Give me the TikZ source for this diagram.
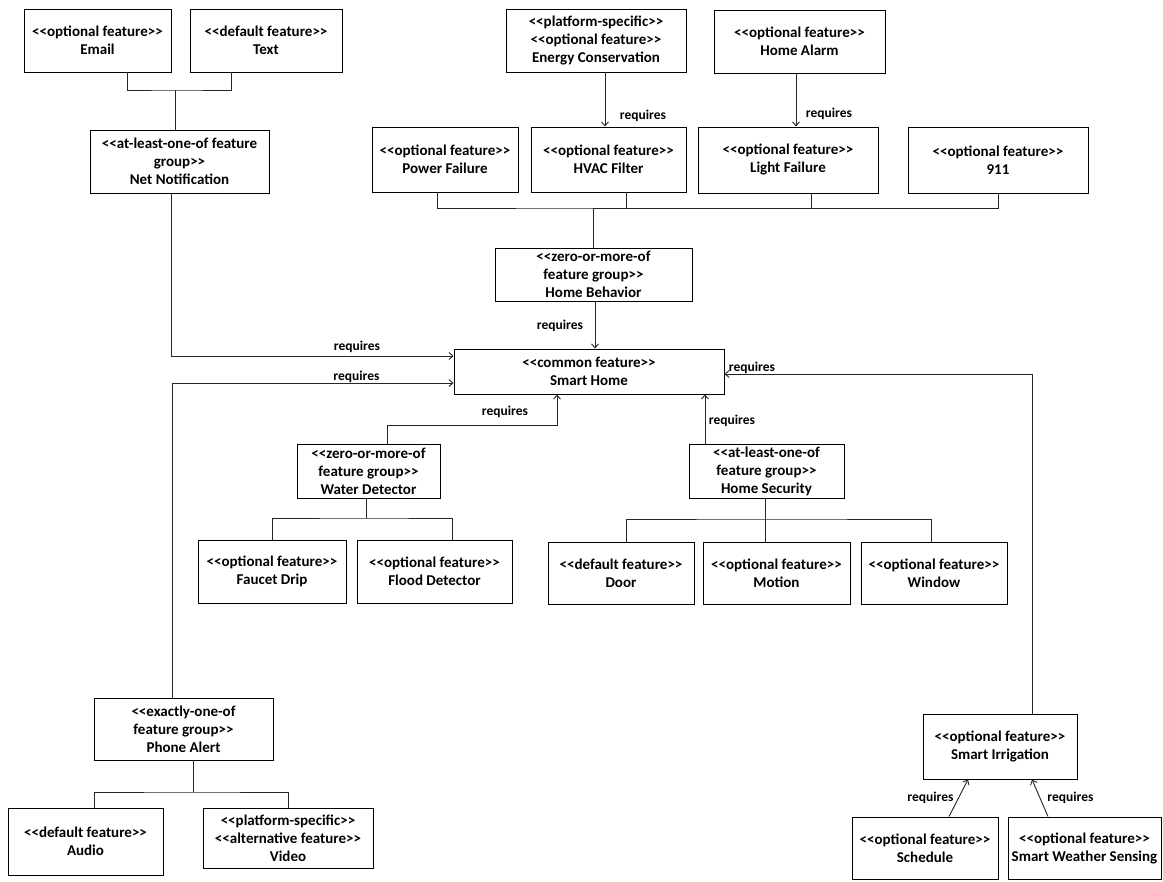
\documentclass[tikz,border=0pt]{standalone}
\usepackage{fontspec}
\setmainfont{Carlito}[Ligatures=TeXOff]
\usetikzlibrary{arrows.meta}
\tikzset{
  feat/.style 2 args={draw, line width=0.95pt, rectangle, inner sep=0pt,
    minimum width=#1, minimum height=#2, align=center,
    font=\fontsize{15}{18}\selectfont\bfseries},
  link/.style={line width=0.9pt, draw=black!85},
  req/.style={line width=0.9pt, draw=black!85, -{Straight Barb[length=4pt,width=7pt]}},
  reqlabel/.style={inner sep=0pt, font=\fontsize{13.5}{16}\selectfont\bfseries},
}
\begin{document}
\begin{tikzpicture}[x=1pt, y=-1pt]
\useasboundingbox (0,0) rectangle (1163,882);

% ---- feature boxes ----
\node[feat={147pt}{63pt}] (email)    at (97.5,40.5)  {<<optional feature>>\\Email};
\node[feat={152pt}{63pt}] (text)     at (266,40.5)   {<<default feature>>\\Text};
\node[feat={179pt}{63pt}] (netnot)   at (179.5,161.5){<<at-least-one-of feature\\group>>\\Net Notification};
\node[feat={180pt}{63pt}] (energy)   at (596,40.5)   {<<platform-specific>>\\<<optional feature>>\\Energy Conservation};
\node[feat={171pt}{63pt}] (alarm)    at (799.5,41.5) {<<optional feature>>\\Home Alarm};
\node[feat={146pt}{65pt}] (power)    at (445,159.5)  {<<optional feature>>\\Power Failure};
\node[feat={155pt}{65pt}] (hvac)     at (608.5,159.5){<<optional feature>>\\HVAC Filter};
\node[feat={180pt}{66pt}] (light)    at (788,160)    {<<optional feature>>\\Light Failure};
\node[feat={180pt}{66pt}] (n911)     at (998,160)    {<<optional feature>>\\911};
\node[feat={197pt}{53pt}] (behavior) at (593.5,274.5){<<zero-or-more-of\\feature group>>\\Home Behavior};
\node[feat={270pt}{45pt}] (home)     at (589,371.5)  {<<common feature>>\\Smart Home};
\node[feat={143pt}{54pt}] (water)    at (368.5,471)  {<<zero-or-more-of\\feature group>>\\Water Detector};
\node[feat={148pt}{63pt}] (faucet)   at (272,571.5)  {<<optional feature>>\\Faucet Drip};
\node[feat={155pt}{63pt}] (flood)    at (434.5,571.5){<<optional feature>>\\Flood Detector};
\node[feat={155pt}{54pt}] (security) at (766.5,471)  {<<at-least-one-of\\feature group>>\\Home Security};
\node[feat={146pt}{62pt}] (door)     at (621,573)    {<<default feature>>\\Door};
\node[feat={147pt}{62pt}] (motion)   at (776.5,573)  {<<optional feature>>\\Motion};
\node[feat={146pt}{62pt}] (window)   at (934,573)    {<<optional feature>>\\Window};
\node[feat={179pt}{62pt}] (phone)    at (183.5,729)  {<<exactly-one-of\\feature group>>\\Phone Alert};
\node[feat={155pt}{67pt}] (audio)    at (85.5,841.5) {<<default feature>>\\Audio};
\node[feat={170pt}{60pt}] (video)    at (288,838)    {<<platform-specific>>\\<<alternative feature>>\\Video};
\node[feat={154pt}{65pt}] (irrig)    at (1000,746.5) {<<optional feature>>\\Smart Irrigation};
\node[feat={146pt}{62pt}] (schedule) at (925,848)    {<<optional feature>>\\Schedule};
\node[feat={153pt}{62pt}] (sws)      at (1084.5,848) {<<optional feature>>\\Smart Weather Sensing};

% ---- group buses ----
\coordinate (nnBus) at (175,90);
\draw[link] ([xshift=29.5pt]email.south) |- (nnBus) -| ([xshift=-35pt]text.south);
\draw[link] (nnBus) -- ([xshift=-4.5pt]netnot.north);

\coordinate (hbBus) at (593,208);
\draw[link] ([xshift=-8pt]power.south) |- (hbBus) -| (n911.south);
\draw[link] ([xshift=17.5pt]hvac.south) |- (hbBus);
\draw[link] ([xshift=23pt]light.south) |- (hbBus);
\draw[link] (hbBus) -- ([xshift=-0.5pt]behavior.north);

\coordinate (wdBus) at (366,518);
\draw[link] ([xshift=-2.5pt]water.south) -- (wdBus);
\draw[link] (faucet.north) |- (wdBus) -| ([xshift=17.5pt]flood.north);

\coordinate (hsBus) at (765,519);
\draw[link] ([xshift=-1.5pt]security.south) -- ([xshift=-11.5pt]motion.north);
\draw[link] ([xshift=5pt]door.north) |- (hsBus) -| ([xshift=-3pt]window.north);

\coordinate (paBus) at (193,792);
\draw[link] ([xshift=9.5pt]phone.south) -- (paBus);
\draw[link] ([xshift=8.5pt]audio.north) |- (paBus) -| (video.north);

% ---- requires dependencies ----
\draw[req] ([xshift=9pt]energy.south) -- ([xshift=-3.5pt]hvac.north);
\draw[req] ([xshift=-3.5pt]alarm.south) -- ([xshift=8pt]light.north);
\draw[req] ([xshift=1.5pt]behavior.south) -- ([xshift=6pt]home.north);
\draw[req] ([xshift=-8.5pt]netnot.south) |- ([yshift=15.5pt]home.west);
\draw[req] ([xshift=-11.5pt]phone.north) |- ([yshift=-11.5pt]home.west);
\coordinate (wdTurn) at (557,425);
\draw[req] ([xshift=18.5pt]water.north) |- (wdTurn) -- ([xshift=-32pt]home.south);
\draw[req] ([xshift=-61.5pt]security.north) -- ([xshift=116pt]home.south);
\draw[req] ([xshift=32pt]irrig.north) |- ([yshift=-2.5pt]home.east);
\draw[req] ([xshift=24pt]schedule.north) -- ([xshift=-32pt]irrig.south);
\draw[req] ([xshift=-36.5pt]sws.north) -- ([xshift=32pt]irrig.south);

% ---- requires labels ----
\node[reqlabel] (lEnergy)   at (643,116)    {requires};
\node[reqlabel] (lAlarm)    at (829,114)    {requires};
\node[reqlabel] (lBehavior) at (560,326)    {requires};
\node[reqlabel] (lNet)      at (357,347)    {requires};
\node[reqlabel] (lPhone)    at (356.5,377)  {requires};
\node[reqlabel] (lWater)    at (505,412)    {requires};
\node[reqlabel] (lSecurity) at (732,421)    {requires};
\node[reqlabel] (lIrrig)    at (752,368)    {requires};
\node[reqlabel] (lSchedule) at (930.5,798)  {requires};
\node[reqlabel] (lSws)      at (1070.5,798) {requires};
\end{tikzpicture}
\end{document}
